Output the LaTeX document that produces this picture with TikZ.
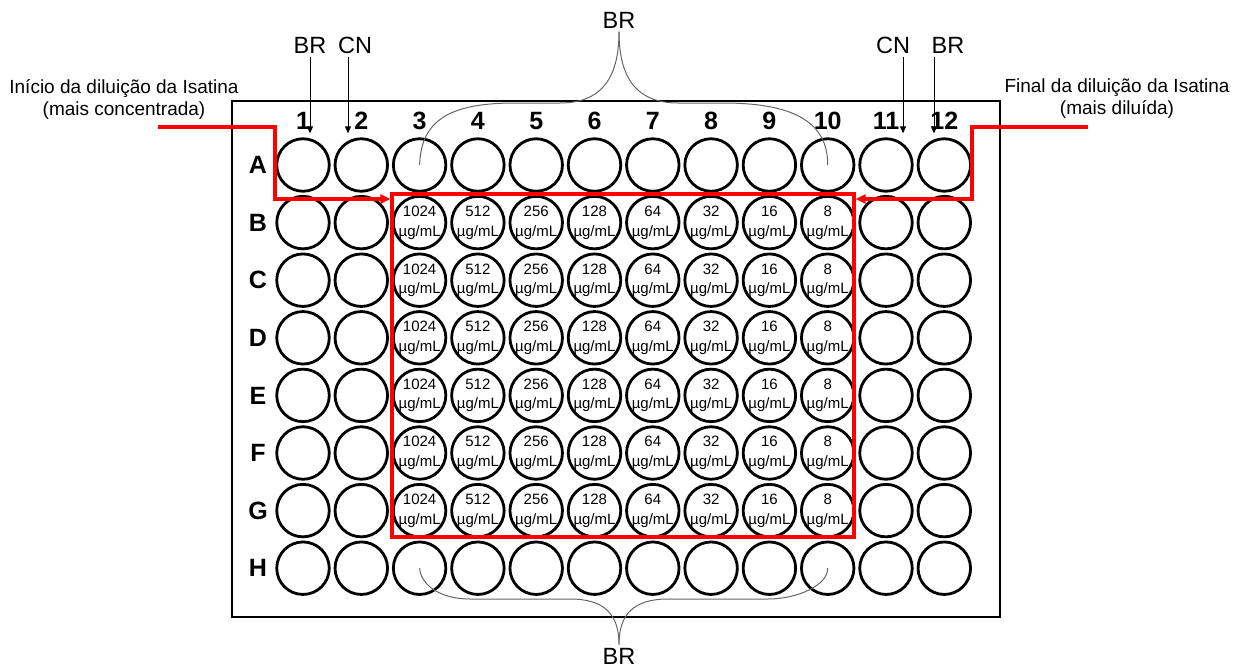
\documentclass[tikz,border=0pt]{standalone}
\usepackage{fontspec}
\setmainfont{Liberation Sans}
\usetikzlibrary{positioning, arrows.meta}

\begin{document}
\begin{tikzpicture}[
	x=1pt, y=-1pt, very thin,
	>={Triangle[length=7pt, width=6pt]},
	well/.style={circle, draw, line width=2.8pt, minimum size=52.5pt, inner sep=0pt},
	conc/.style={align=center, inner sep=0pt, font=\fontsize{15}{19.5}\selectfont},
	axis/.style={font=\bfseries\fontsize{25}{25}\selectfont},
	tag/.style={font=\fontsize{23.5}{23.5}\selectfont},
	note/.style={align=center, font=\fontsize{19}{22}\selectfont},
	dil/.style={draw=red, line width=3.4pt},
	brace/.style={draw=black!60, line width=1pt}
	]
	\useasboundingbox (0,0) rectangle (1242,669);

	% plate
	\node[draw, line width=2.8pt, minimum width=768pt, minimum height=516pt, inner sep=0pt] (plate) at (616,359) {};

	% wells
	\foreach \r [count=\i] in {A,B,C,D,E,F,G,H} {
		\node[axis] (row\r) at (258, {165+57.6*(\i-1)}) {\r};
		\foreach \c in {1,...,12}
			\node[well] (\r\c) at ({303+58.3*(\c-1)}, {165+57.6*(\i-1)}) {};
	}
	\foreach \c in {1,...,12}
		\node[axis] (col\c) at ({303+58.3*(\c-1)}, 121) {\c};

	% concentrations
	\foreach \r in {B,C,D,E,F,G}
		\foreach \c/\v in {3/1024, 4/512, 5/256, 6/128, 7/64, 8/32, 9/16, 10/8}
			\node[conc] (conc-\r\c) at (\r\c) {\v\\µg/mL};

	% dilution area
	\node[dil, minimum width=462pt, minimum height=343pt, inner sep=0pt] (box) at (623,365.5) {};

	\node[note] (startText) at (124,99) {Início da diluição da Isatina\\(mais concentrada)};
	\node[note] (endText) at (1117,99) {Final da diluição da Isatina\\(mais diluída)};
	\coordinate (startL) at (158,127);
	\coordinate (midL) at (275,199);
	\coordinate (startR) at (1088,127);
	\coordinate (midR) at (972,199);
	\draw[dil, -{Triangle[length=10pt, width=9pt]}] (startL) -| (midL) -- (midL -| box.west);
	\draw[dil, -{Triangle[length=10pt, width=9pt]}] (startR) -| (midR) -- (midR -| box.east);

	% controls
	\node[tag] (brL) at (310,45) {BR};
	\node[tag] (cnL) at (355,45) {CN};
	\node[tag] (cnR) at (893,45) {CN};
	\node[tag] (brR) at (948,45) {BR};
	\path[->, line width=1pt, shorten >=4pt]
		(brL.south) edge (brL.south |- A1.north)
		(cnL.south -| 348,0) edge (348,0 |- A2.north)
		(cnR.south -| 903,0) edge (903,0 |- A11.north)
		(brR.south -| 934,0) edge (934,0 |- A12.north);

	% blank braces
	\node[tag] (brTop) at (619,20) {BR};
	\node[tag] (brBot) at (619,656) {BR};
	\draw[brace] (A3.center) .. controls (421,120) and (450,103) .. (515,103) -- (560,103)
		.. controls (600,103) and (619,80) .. (brTop.south);
	\draw[brace] (brTop.south) .. controls (619,80) and (638,103) .. (678,103) -- (723,103)
		.. controls (790,103) and (828,120) .. (A10.center);
	\draw[brace] (H3.center) .. controls (421,585) and (440,599) .. (470,599) -- (570,599)
		.. controls (605,599) and (619,615) .. (brBot.north);
	\draw[brace] (brBot.north) .. controls (619,615) and (633,599) .. (668,599) -- (768,599)
		.. controls (798,599) and (828,585) .. (H10.center);
\end{tikzpicture}
\end{document}
